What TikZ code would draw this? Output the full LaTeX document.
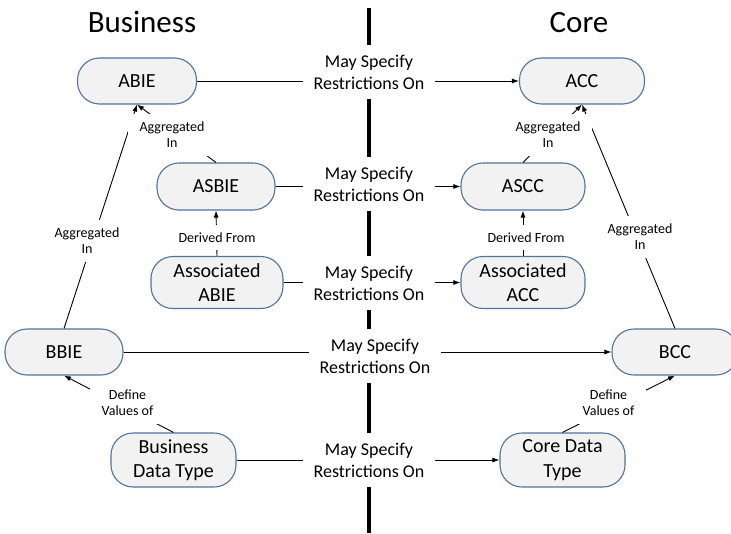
\documentclass[tikz,border=0pt]{standalone}
\usepackage{fontspec}
\setmainfont{Carlito}
\usetikzlibrary{arrows.meta}
\definecolor{nodeborder}{RGB}{80,115,160}
\definecolor{nodefill}{RGB}{242,242,242}
\begin{document}
\begin{tikzpicture}[x=1pt,y=-1pt,
  box/.style={draw=nodeborder, fill=nodefill, line width=1.1pt, rounded corners=22pt,
    inner sep=0pt, align=center, font=\fontsize{20}{24.5}\selectfont},
  mlab/.style={fill=white, inner xsep=10pt, inner ysep=10pt, align=center,
    font=\fontsize{18}{22}\selectfont},
  slab/.style={fill=white, inner xsep=12pt, inner ysep=8pt, align=center,
    font=\fontsize{14}{16}\selectfont},
  title/.style={anchor=base, font=\fontsize{31}{37}\selectfont},
  conn/.style={line width=0.9pt, black},
  arr/.style={-{Latex[length=7pt,width=5pt]}},
  divider/.style={line width=3.3pt, black}]
\useasboundingbox (0,0) rectangle (731,533);

% titles
\node[title] (tb) at (142,32.3) {Business};
\node[title] (tc) at (579,32.3) {Core};

% divider
\coordinate (vtop) at (369,8);
\coordinate (vbot) at (369,533);
\draw[divider] (vtop) -- (vbot);

% boxes
\node[box, minimum width=119pt, minimum height=46pt] (ABIE) at (137,81) {ABIE};
\node[box, minimum width=125pt, minimum height=46pt] (ACC) at (582,81) {ACC};
\node[box, minimum width=118pt, minimum height=47pt] (ASBIE) at (216,186.5) {ASBIE};
\node[box, minimum width=124pt, minimum height=47pt] (ASCC) at (523,186.5) {ASCC};
\node[box, minimum width=132pt, minimum height=52pt] (AABIE) at (217,282.5) {Associated\\ABIE};
\node[box, minimum width=124pt, minimum height=52pt] (AACC) at (523,282.5) {Associated\\ACC};
\node[box, minimum width=118pt, minimum height=46pt] (BBIE) at (64,352) {BBIE};
\node[box, minimum width=126pt, minimum height=46pt] (BCC) at (675,352) {BCC};
\node[box, minimum width=125pt, minimum height=54pt] (BDT) at (173.5,460) {Business\\Data Type};
\node[box, minimum width=125pt, minimum height=54pt] (CDT) at (562.5,460) {Core Data\\Type};

% "May Specify Restrictions On" labels
\node[mlab] (m1) at (369,72) {May Specify\\Restrictions On};
\node[mlab] (m2) at (369,184) {May Specify\\Restrictions On};
\node[mlab] (m3) at (369,283) {May Specify\\Restrictions On};
\node[mlab] (m4) at (375,356) {May Specify\\Restrictions On};
\node[mlab] (m5) at (369,460) {May Specify\\Restrictions On};

\draw[conn] (ABIE.east) -- (ABIE.east -| m1.west);
\draw[conn,arr] (ACC.west -| m1.east) -- (ACC.west);
\draw[conn] (ASBIE.east) -- (ASBIE.east -| m2.west);
\draw[conn,arr] (ASCC.west -| m2.east) -- (ASCC.west);
\draw[conn] (AABIE.east) -- (AABIE.east -| m3.west);
\draw[conn,arr] (AACC.west -| m3.east) -- (AACC.west);
\draw[conn] (BBIE.east) -- (BBIE.east -| m4.west);
\draw[conn,arr] (BCC.west -| m4.east) -- (BCC.west);
\draw[conn] (BDT.east) -- (BDT.east -| m5.west);
\draw[conn,arr] (CDT.west -| m5.east) -- (CDT.west);

% diagonal / vertical connectors
\draw[conn,arr] (ASBIE.north) -- (ABIE.south);
\draw[conn,arr] (BBIE.north) -- (ABIE.south);
\draw[conn,arr] (ASCC.north) -- (ACC.south);
\draw[conn,arr] (BCC.north) -- (ACC.south);
\draw[conn,arr] (AABIE.north) -- (ASBIE.south);
\draw[conn,arr] (AACC.north) -- (ASCC.south);
\draw[conn,arr] (BDT.north) -- (BBIE.south);
\draw[conn,arr] (CDT.north) -- (BCC.south);

% small labels
\node[slab] (a1) at (172,135) {Aggregated\\In};
\node[slab] (a2) at (87,241) {Aggregated\\In};
\node[slab] (a3) at (548,135) {Aggregated\\In};
\node[slab] (a4) at (640,237) {Aggregated\\In};
\node[slab] (d1) at (217,237.5) {Derived From};
\node[slab] (d2) at (526,237.5) {Derived From};
\node[slab] (v1) at (127.5,403) {Define\\Values of};
\node[slab] (v2) at (608.5,403) {Define\\Values of};
\end{tikzpicture}
\end{document}
